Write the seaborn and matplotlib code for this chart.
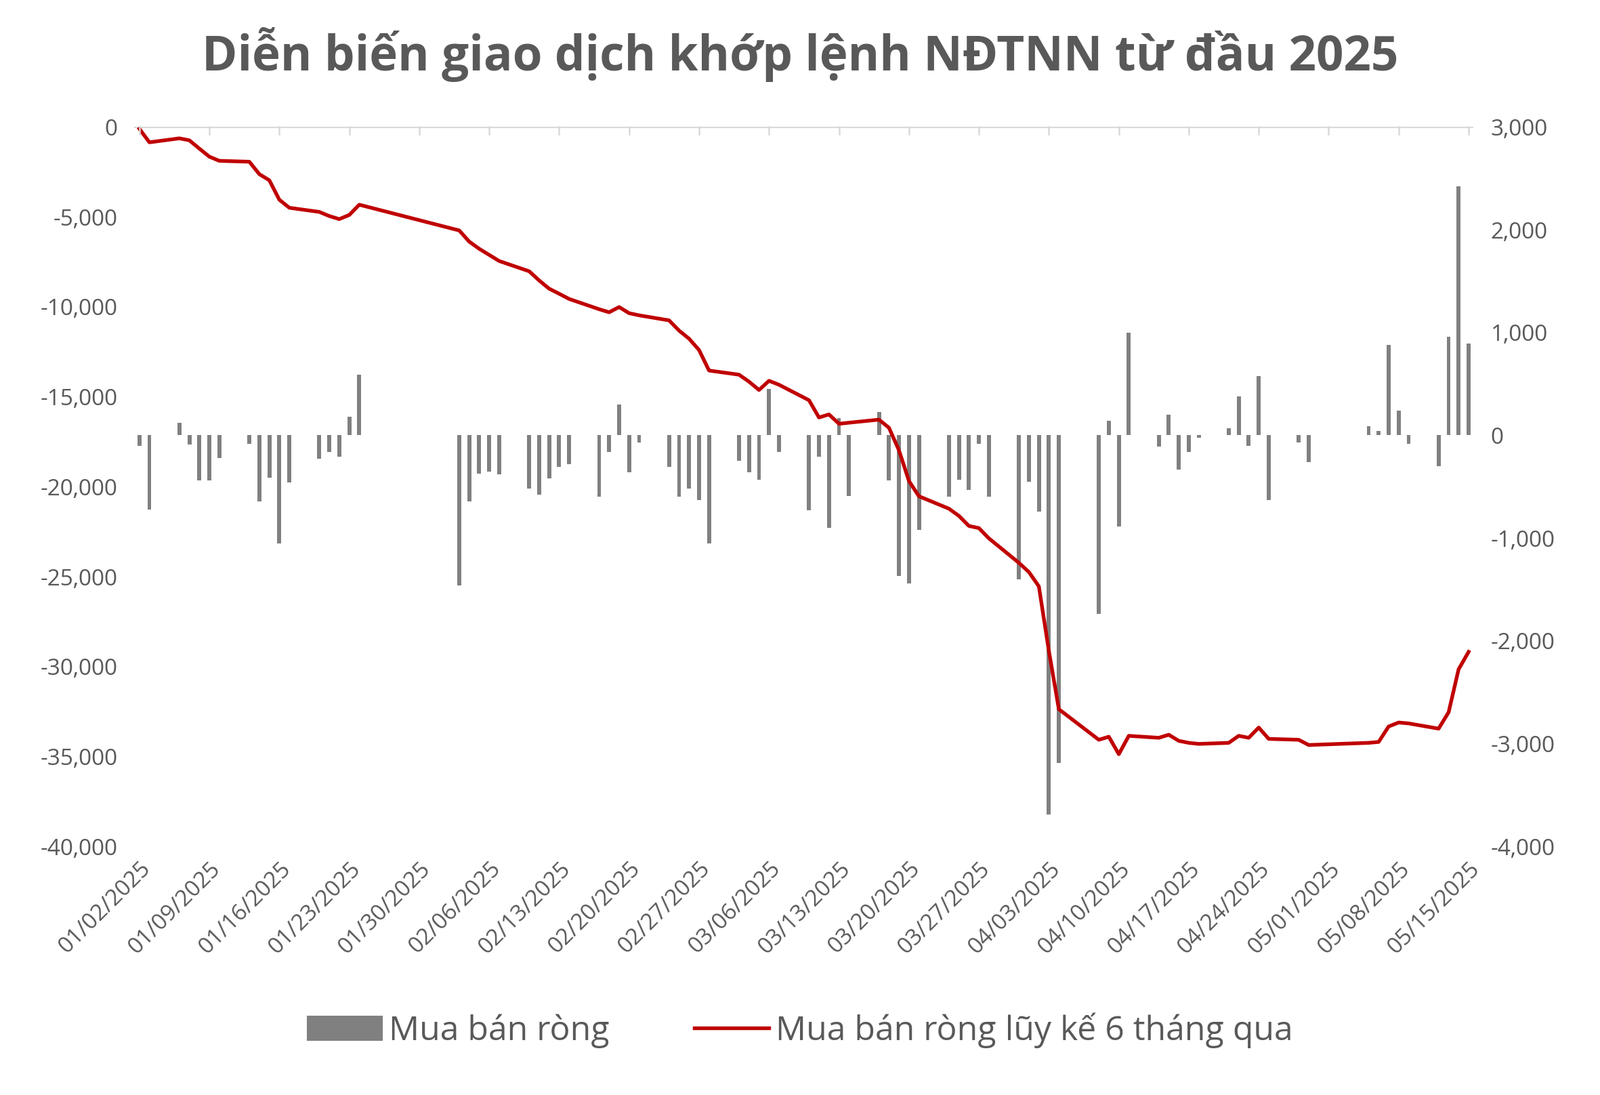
import matplotlib
matplotlib.use("Agg")
import matplotlib.pyplot as plt
import seaborn as sns
import pandas as pd
import numpy as np
from matplotlib.patches import Patch
from matplotlib.lines import Line2D

dates = ["2025-01-02","2025-01-03","2025-01-06","2025-01-07","2025-01-08","2025-01-09","2025-01-10",
 "2025-01-13","2025-01-14","2025-01-15","2025-01-16","2025-01-17","2025-01-20","2025-01-21","2025-01-22",
 "2025-01-23","2025-01-24","2025-02-03","2025-02-04","2025-02-05","2025-02-06","2025-02-07","2025-02-10",
 "2025-02-11","2025-02-12","2025-02-13","2025-02-14","2025-02-17","2025-02-18","2025-02-19","2025-02-20",
 "2025-02-21","2025-02-24","2025-02-25","2025-02-26","2025-02-27","2025-02-28","2025-03-03","2025-03-04",
 "2025-03-05","2025-03-06","2025-03-07","2025-03-10","2025-03-11","2025-03-12","2025-03-13","2025-03-14",
 "2025-03-17","2025-03-18","2025-03-19","2025-03-20","2025-03-21","2025-03-24","2025-03-25","2025-03-26",
 "2025-03-27","2025-03-28","2025-03-31","2025-04-01","2025-04-02","2025-04-03","2025-04-04","2025-04-08",
 "2025-04-09","2025-04-10","2025-04-11","2025-04-14","2025-04-15","2025-04-16","2025-04-17","2025-04-18",
 "2025-04-21","2025-04-22","2025-04-23","2025-04-24","2025-04-25","2025-04-28","2025-04-29","2025-05-05",
 "2025-05-06","2025-05-07","2025-05-08","2025-05-09","2025-05-12","2025-05-13","2025-05-14","2025-05-15"]

net_daily = [-100,-720,120,-90,-440,-440,-220,-80,-640,-410,-1050,-460,-230,-160,-210,180,590,
 -1460,-640,-370,-350,-380,-520,-580,-420,-310,-280,-600,-160,300,-360,-70,-310,-600,-520,-630,-1050,
 -250,-360,-430,450,-160,-730,-210,-900,170,-590,230,-440,-1370,-1440,-920,-600,-430,-530,-80,-600,
 -1400,-450,-740,-3690,-3190,-1740,140,-890,1000,-110,200,-330,-160,-20,70,380,-100,580,-630,-70,-260,
 90,40,880,240,-80,-300,960,2420,890]

cumulative = [-100,-850,-630,-740,-1200,-1650,-1880,-1930,-2620,-2960,-4040,-4490,-4720,-4950,-5120,-4890,-4320,
 -5750,-6370,-6770,-7110,-7450,-8020,-8530,-8990,-9270,-9560,-10130,-10300,-10010,-10350,-10470,-10750,-11320,
 -11770,-12400,-13540,-13770,-14160,-14620,-14110,-14330,-15190,-16150,-15980,-16500,-16440,-16270,-16720,
 -17970,-19680,-20530,-21220,-21620,-22180,-22300,-22870,-24230,-24740,-25540,-29120,-32370,-34070,-33900,
 -34870,-33850,-33960,-33790,-34130,-34240,-34300,-34240,-33850,-33960,-33390,-34020,-34070,-34360,-34240,
 -34190,-33330,-33110,-33160,-33450,-32540,-30150,-29180]

df = pd.DataFrame({"date": pd.to_datetime(dates), "net": net_daily, "cum": cumulative})

plt.rcParams["font.family"] = "Open Sans"
TXT = "#595959"
fmt = matplotlib.ticker.FuncFormatter(lambda v, p: f"{int(v):,}")

fig = plt.figure(figsize=(2362/150, 1616/150), dpi=150)
ax = fig.add_axes([0.084, 0.227, 0.837, 0.657])
ax2 = ax.twinx()

ax.bar(df["date"], df["net"], width=0.4, color="#808080", zorder=2)
ax.set_ylim(-4000, 3000)
ax.set_yticks(np.arange(-4000, 3001, 1000))
ax.yaxis.tick_right()
ax.yaxis.set_major_formatter(fmt)

sns.lineplot(data=df, x="date", y="cum", ax=ax2, color="#C00000", linewidth=2.6)
ax2.set_ylim(-40000, 0)
ax2.set_yticks(np.arange(-40000, 1, 5000))
ax2.yaxis.tick_left()
ax2.yaxis.set_major_formatter(fmt)
ax2.set_xlabel(""); ax2.set_ylabel("")

start = pd.Timestamp("2025-01-02"); end = pd.Timestamp("2025-05-15")
ax.set_xlim(start - pd.Timedelta(days=0.5), end + pd.Timedelta(days=0.5))
ticks = pd.date_range(start, end, freq="7D")
ax.set_xticks(ticks)
ax.set_xticklabels([t.strftime("%m/%d/%Y") for t in ticks], rotation=45, ha="right",
                   rotation_mode="anchor", fontsize=16, color=TXT)

for a in (ax, ax2):
    for s in a.spines.values():
        s.set_visible(False)
    a.tick_params(axis="y", length=0, labelsize=16, labelcolor=TXT, pad=12)
ax.tick_params(axis="x", length=0, pad=8)
ax2.axhline(0, color="#D9D9D9", linewidth=1.5, zorder=1)
for t in ticks:
    ax2.plot([t, t], [0, -400], color="#D9D9D9", linewidth=1.2, clip_on=False)

fig.suptitle("Diễn biến giao dịch khớp lệnh NĐTNN từ đầu 2025", fontsize=34, fontweight="bold",
             color=TXT, y=0.975)

handles = [Patch(color="#808080"), Line2D([0], [0], color="#C00000", linewidth=2.6)]
fig.legend(handles, ["Mua bán ròng", "Mua bán ròng lũy kế 6 tháng qua"], loc="lower center",
           ncol=2, frameon=False, fontsize=24, labelcolor=TXT, bbox_to_anchor=(0.5, 0.015),
           columnspacing=2.5, handlelength=2.2, handletextpad=0.2)

fig.savefig("out.png", dpi=150)
